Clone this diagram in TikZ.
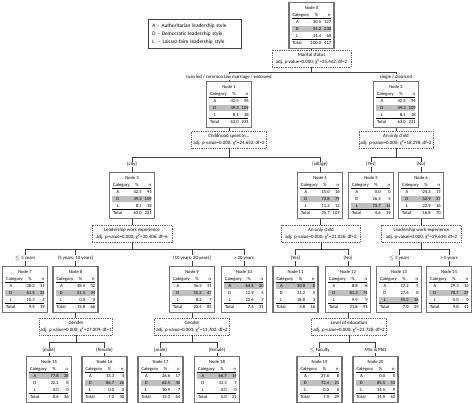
\documentclass[tikz,border=0pt]{standalone}
\usepackage{fontspec}
\setmainfont{Carlito}
\usetikzlibrary{calc}
\tikzset{
 tbox/.style={draw=black!55, line width=1.2pt, minimum width=45pt, minimum height=46pt, inner sep=0pt},
 tt/.style={inner sep=0pt, font=\fontsize{4.6}{5}\selectfont, text height=3.2pt, text depth=1pt, text=black},
 hl/.style={fill=black!25},
 rulel/.style={draw=black, line width=0.45pt},
 spl/.style={draw=black!60, dash pattern=on 1pt off 0.8pt, line width=0.5pt, minimum height=17pt, inner sep=1pt, align=center, font=\fontsize{4.9}{6.6}\selectfont, text=black},
 conn/.style={draw=black!75, line width=0.55pt},
 elab/.style={fill=white, inner sep=0.6pt, font=\fontsize{4.8}{5}\selectfont, text height=3.3pt, text depth=1pt, text=black},
 legbox/.style={draw=black!75, line width=0.7pt, anchor=north west, minimum width=93pt, minimum height=28pt, align=left, text width=85pt, inner sep=4pt, font=\fontsize{5.3}{8}\selectfont, text=black},
}
\newcommand\tnode[5]{%
  \node[tbox, anchor=north] (#1) at (#2,#3) {};
  \fill[hl] ($(#1.north west)+(3.5,#5-3.4)$) rectangle ($(#1.north west)+(42.5,#5+3.4)$);
  \node[tt] (#1-title) at ($(#1.north)+(0,6)$) {Node #4};
  \node[tt,anchor=west] (#1-hc) at ($(#1.north west)+(4,13)$) {Category};
  \node[tt] (#1-hp) at ($(#1.north west)+(28,13)$) {\%};
  \node[tt] (#1-hn) at ($(#1.north west)+(41,13)$) {n};
  \draw[rulel] ($(#1.north west)+(3.5,16.4)$) -- ++(39,0);
  \draw[rulel] ($(#1.north west)+(3.5,37.4)$) -- ++(39,0);
  \node[tt] (#1-ra) at ($(#1.north west)+(9,20)$) {A};
  \node[tt] (#1-rd) at ($(#1.north west)+(9,27)$) {D};
  \node[tt] (#1-rl) at ($(#1.north west)+(9,34)$) {L};
  \node[tt,anchor=west] (#1-rt) at ($(#1.north west)+(4,41.5)$) {Total};
}
\newcommand\tvals[9]{%
  \node[tt,anchor=east] (#1-ap) at ($(#1.north west)+(33,20)$) {#2};
  \node[tt,anchor=east] (#1-an) at ($(#1.north west)+(43,20)$) {#3};
  \node[tt,anchor=east] (#1-dp) at ($(#1.north west)+(33,27)$) {#4};
  \node[tt,anchor=east] (#1-dn) at ($(#1.north west)+(43,27)$) {#5};
  \node[tt,anchor=east] (#1-lp) at ($(#1.north west)+(33,34)$) {#6};
  \node[tt,anchor=east] (#1-ln) at ($(#1.north west)+(43,34)$) {#7};
  \node[tt,anchor=east] (#1-tp) at ($(#1.north west)+(33,41.5)$) {#8};
  \node[tt,anchor=east] (#1-tn) at ($(#1.north west)+(43,41.5)$) {#9};
}
\newcommand\spbox[6]{\node[spl, anchor=north, minimum width=#4pt] (#1) at (#2,#3) {#5\\#6};}
\newcommand\child[4]{%
  \draw[conn] (#1.north |- #2) -- (#1.north);
  \node[elab] (#1-lab) at (#1.north |- #3) {#4};
}
\begin{document}
\begin{tikzpicture}[x=1pt,y=-1pt]
\useasboundingbox (0,0) rectangle (474,403);

% legend
\node[legbox] (legend) at (148,19) {A -- Authoritarian leadership style\\D -- Democratic leadership style\\L\ \ -- Laissez-faire leadership style};

% level coordinates
\coordinate (j1) at (0,72);   \coordinate (l1) at (0,77);
\coordinate (j2) at (0,157);  \coordinate (l2) at (0,164.5);
\coordinate (j3) at (0,249);  \coordinate (l3) at (0,258);
\coordinate (j4) at (0,342);  \coordinate (l4) at (0,350.5);

% nodes
\tnode{n0}{311.5}{2}{0}{27}   \tvals{n0}{30.5}{127}{55.2}{230}{14.4}{60}{100.0}{417}
\tnode{n1}{229}{81}{1}{27}    \tvals{n1}{42.5}{94}{49.3}{109}{8.1}{18}{63.0}{221}
\tnode{n2}{396}{81}{2}{27}    \tvals{n2}{42.5}{94}{49.3}{109}{8.1}{18}{63.0}{221}
\tnode{n3}{132}{172}{3}{27}   \tvals{n3}{42.5}{94}{49.3}{109}{8.1}{18}{63.0}{221}
\tnode{n4}{320}{172}{4}{27}   \tvals{n4}{15.0}{16}{73.8}{79}{11.2}{12}{25.7}{107}
\tnode{n5}{371}{172}{5}{34}   \tvals{n5}{0.0}{0}{26.3}{5}{73.7}{14}{4.6}{19}
\tnode{n6}{421}{172}{6}{27}   \tvals{n6}{24.3}{17}{52.9}{37}{22.9}{16}{16.8}{70}
\tnode{n7}{25}{266}{7}{27}    \tvals{n7}{28.2}{11}{61.5}{24}{10.3}{4}{9.4}{39}
\tnode{n8}{75.5}{266}{8}{27}  \tvals{n8}{48.5}{32}{51.5}{34}{0.0}{0}{15.8}{66}
\tnode{n9}{192}{266}{9}{27}   \tvals{n9}{36.5}{31}{55.3}{47}{8.2}{7}{20.4}{85}
\tnode{n10}{244}{266}{10}{20} \tvals{n10}{64.5}{20}{12.9}{4}{22.6}{7}{7.4}{31}
\tnode{n11}{295.5}{266}{11}{20} \tvals{n11}{50.0}{8}{31.2}{5}{18.8}{3}{3.8}{16}
\tnode{n12}{348}{266}{12}{27} \tvals{n12}{8.8}{8}{81.3}{74}{9.9}{9}{21.8}{91}
\tnode{n13}{399}{266}{13}{34} \tvals{n13}{17.2}{5}{27.6}{8}{55.2}{16}{7.0}{29}
\tnode{n14}{449}{266}{14}{27} \tvals{n14}{29.3}{12}{70.7}{29}{0.0}{0}{9.8}{41}
\tnode{n15}{49}{356}{15}{20}  \tvals{n15}{77.8}{28}{22.2}{8}{0.0}{0}{8.6}{36}
\tnode{n16}{104.5}{356}{16}{27} \tvals{n16}{13.3}{4}{86.7}{26}{0.0}{0}{7.2}{30}
\tnode{n17}{160.5}{356}{17}{27} \tvals{n17}{26.6}{17}{62.5}{40}{10.9}{7}{15.3}{64}
\tnode{n18}{217}{356}{18}{20} \tvals{n18}{66.7}{14}{33.3}{7}{0.0}{0}{5.0}{21}
\tnode{n19}{319.5}{356}{19}{27} \tvals{n19}{27.6}{8}{72.4}{21}{0.0}{0}{7.0}{29}
\tnode{n20}{375.5}{356}{20}{27} \tvals{n20}{0.0}{0}{85.5}{53}{14.5}{9}{14.9}{62}

% split boxes
\spbox{s0}{311.5}{50}{79}{Marital status}{adj. p-value=0.000; χ\textsuperscript{2}=35.442; df=2}
\spbox{s1}{229}{131}{75}{Childhood spent in...}{adj. p-value=0.000; χ\textsuperscript{2}=24.652; df=2}
\spbox{s2}{396}{131}{74}{An only child}{adj. p-value=0.000; χ\textsuperscript{2}=18.298; df=2}
\spbox{s3}{132}{225}{80}{Leadership work experience}{adj. p-value=0.000; χ\textsuperscript{2}=30.406; df=6}
\spbox{s4}{321}{225}{79}{An only child}{adj. p-value=0.000; χ\textsuperscript{2}=21.026; df=2}
\spbox{s6}{421.5}{225}{80}{Leadership work experience}{adj. p-value=0.000; χ\textsuperscript{2}=29.614; df=2}
\spbox{s8}{76}{318}{73}{Gender}{adj. p-value=0.000; χ\textsuperscript{2}=27.209; df=1}
\spbox{s9}{192}{318}{75}{Gender}{adj. p-value=0.003; χ\textsuperscript{2}=11.702; df=2}
\spbox{s12}{349}{318}{75}{Level of education}{adj. p-value=0.000; χ\textsuperscript{2}=21.728; df=2}

% parent -> split
\foreach \p/\s in {n0/s0,n1/s1,n2/s2,n3/s3,n4/s4,n6/s6,n8/s8,n9/s9,n12/s12}{
  \draw[conn] (\p.south) -- (\p.south |- \s.north);
}

% split 0
\draw[conn] (s0.south) -- (s0.south |- j1);
\draw[conn] (n1.north |- j1) -- (n2.north |- j1);
\child{n1}{j1}{l1}{married / common law marriage / widowed}
\child{n2}{j1}{l1}{single / divorced}

% split 1
\draw[conn] (s1.south) -- (s1.south |- j2);
\draw[conn] (n3.north |- j2) -- (n4.north |- j2);
\child{n3}{j2}{l2}{\{city\}}
\child{n4}{j2}{l2}{\{village\}}

% split 2
\draw[conn] (s2.south) -- (s2.south |- j2);
\draw[conn] (n5.north |- j2) -- (n6.north |- j2);
\child{n5}{j2}{l2}{\{Yes\}}
\child{n6}{j2}{l2}{\{No\}}

% split 3
\draw[conn] (s3.south) -- (s3.south |- j3);
\draw[conn] (n7.north |- j3) -- (n10.north |- j3);
\child{n7}{j3}{l3}{$\leq$ 5 years}
\child{n8}{j3}{l3}{(5 years; 10 years]}
\child{n9}{j3}{l3}{(10 years; 20 years]}
\child{n10}{j3}{l3}{> 20 years}

% split 4
\draw[conn] (s4.south) -- (s4.south |- j3);
\draw[conn] (n11.north |- j3) -- (n12.north |- j3);
\child{n11}{j3}{l3}{\{Yes\}}
\child{n12}{j3}{l3}{\{No\}}

% split 6
\draw[conn] (s6.south) -- (s6.south |- j3);
\draw[conn] (n13.north |- j3) -- (n14.north |- j3);
\child{n13}{j3}{l3}{$\leq$ 5 years}
\child{n14}{j3}{l3}{> 5 years}

% split 8
\draw[conn] (s8.south) -- (s8.south |- j4);
\draw[conn] (n15.north |- j4) -- (n16.north |- j4);
\child{n15}{j4}{l4}{\{male\}}
\child{n16}{j4}{l4}{\{female\}}

% split 9
\draw[conn] (s9.south) -- (s9.south |- j4);
\draw[conn] (n17.north |- j4) -- (n18.north |- j4);
\child{n17}{j4}{l4}{\{male\}}
\child{n18}{j4}{l4}{\{female\}}

% split 12
\draw[conn] (s12.south) -- (s12.south |- j4);
\draw[conn] (n19.north |- j4) -- (n20.north |- j4);
\child{n19}{j4}{l4}{$\leq$ Faculty}
\child{n20}{j4}{l4}{MSc \& PhD}

\end{tikzpicture}
\end{document}
